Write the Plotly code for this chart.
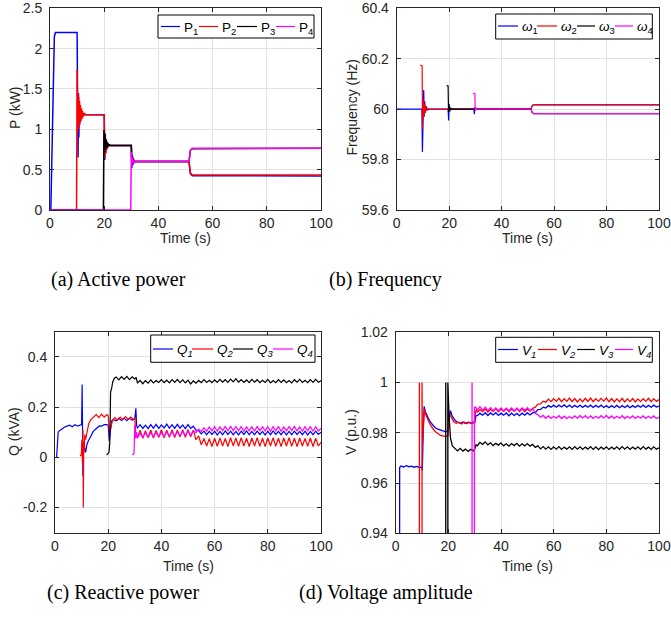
import plotly.graph_objects as go

W, H = 671, 620

# ---------------- tick labels ----------------
X_TICKS = [0, 20, 40, 60, 80, 100]
X_TICKTEXT = ['0', '20', '40', '60', '80', '100']
P_TICKS = [0, 0.5, 1, 1.5, 2, 2.5]
P_TICKTEXT = ['0', '0.5', '1', '1.5', '2', '2.5']
F_TICKS = [59.6, 59.8, 60, 60.2, 60.4]
F_TICKTEXT = ['59.6', '59.8', '60', '60.2', '60.4']
Q_TICKS = [-0.2, 0, 0.2, 0.4]
Q_TICKTEXT = ['-0.2', '0', '0.2', '0.4']
V_TICKS = [0.94, 0.96, 0.98, 1.0, 1.02]
V_TICKTEXT = ['0.94', '0.96', '0.98', '1', '1.02']

# ---------------- (a) active power, kW ----------------
P1_t = [0, 0.3, 1.6, 2.0, 10.0, 10.2, 10.35, 10.5, 10.65, 10.8, 10.95, 11.1, 11.3, 11.5, 11.8, 12.2, 13,
        20.0, 20.2, 20.4, 20.6, 20.8, 21.0, 21.3, 21.6, 22, 30.0, 30.2, 30.4, 30.6, 30.8, 31.0, 31.5,
        51.3, 51.8, 52.5, 100]
P1_v = [0, 0, 2.15, 2.2, 2.2, 1.5, 0.65, 1.45, 0.9, 1.3, 1.05, 1.25, 1.12, 1.22, 1.16, 1.19, 1.18,
        1.18, 0.62, 0.95, 0.7, 0.88, 0.76, 0.83, 0.79, 0.8, 0.8, 0.52, 0.68, 0.56, 0.64, 0.59, 0.6,
        0.6, 0.45, 0.425, 0.422]
P2_t = [0, 9.8, 10.0, 10.15, 10.3, 10.45, 10.6, 10.75, 10.9, 11.05, 11.2, 11.4, 11.6, 11.8, 12.0, 12.3, 12.7, 13.2,
        20.0, 20.2, 20.35, 20.5, 20.7, 20.9, 21.1, 21.4, 21.8, 22.3, 30.0, 30.2, 30.4, 30.6, 30.8, 31.2, 31.8,
        51.3, 51.8, 52.5, 100]
P2_v = [0, 0, 1.74, 0.95, 1.45, 1.0, 1.4, 1.05, 1.35, 1.08, 1.3, 1.1, 1.26, 1.13, 1.23, 1.16, 1.2, 1.18,
        1.18, 0.64, 0.92, 0.7, 0.88, 0.74, 0.84, 0.78, 0.81, 0.8, 0.8, 0.56, 0.66, 0.58, 0.62, 0.6, 0.6,
        0.6, 0.46, 0.435, 0.435]
P3_t = [0, 19.7, 19.9, 20.1, 20.3, 20.5, 20.7, 20.9, 21.1, 21.4, 21.7, 22.2, 30.0, 30.2, 30.4, 30.6, 30.9, 31.4,
        51.3, 51.8, 52.5, 100]
P3_v = [0, 0, 0.99, 0.72, 0.93, 0.75, 0.87, 0.77, 0.84, 0.79, 0.81, 0.8, 0.8, 0.6, 0.66, 0.58, 0.61, 0.6,
        0.6, 0.74, 0.76, 0.765]
P4_t = [0, 29.8, 30.0, 30.2, 30.4, 30.6, 30.8, 31.1, 31.5, 51.3, 51.8, 52.5, 100]
P4_v = [0, 0, 0.72, 0.57, 0.65, 0.58, 0.62, 0.59, 0.6, 0.6, 0.74, 0.765, 0.765]

# ---------------- (b) frequency, Hz ----------------
W1_t = [0, 9.6, 9.8, 10.0, 10.3, 10.5, 10.7, 10.9, 11.2, 11.6, 12.2, 19.6, 19.8, 20.0, 20.2, 20.5, 21,
        29.4, 29.6, 29.8, 30.1, 30.5, 51.2, 51.6, 52.2, 100]
W1_v = [60, 60, 59.83, 60.0, 60.076, 59.97, 60.03, 59.985, 60.012, 59.996, 60, 60, 59.955, 60.02, 59.99, 60.005, 60,
        60, 59.98, 60.008, 59.998, 60, 60, 60.012, 60.017, 60.017]
W2_t = [9.0, 9.7, 9.85, 10.0, 10.15, 10.3, 10.45, 10.6, 10.8, 11.0, 11.3, 11.7, 12.2, 51.2, 51.6, 52.2, 100]
W2_v = [60.175, 60.172, 59.92, 60.04, 59.96, 60.03, 59.975, 60.02, 59.985, 60.01, 59.995, 60.003, 60,
        60, 60.012, 60.018, 60.018]
W3_t = [19.0, 19.6, 19.75, 19.9, 20.05, 20.2, 20.4, 20.6, 20.9, 21.3, 51.2, 51.6, 52.2, 100]
W3_v = [60.093, 60.092, 59.99, 60.015, 59.992, 60.008, 59.996, 60.004, 59.999, 60, 60, 59.988, 59.982, 59.982]
W4_t = [29.0, 29.8, 29.95, 30.1, 30.3, 30.6, 51.2, 51.6, 52.2, 100]
W4_v = [60.063, 60.062, 59.995, 60.006, 59.998, 60, 60, 59.988, 59.982, 59.982]

# sampling instants of the steady ripple part (s)
T_RIP = list(range(31, 101))

# ---------------- (c) reactive power, kVA ----------------
Q1_t = [0.6, 1.2, 1.6, 2.5, 3.5, 4.5, 5.5, 6.5, 7.5, 8.5, 9.5, 10.0, 10.2, 10.5, 10.8, 11.1, 11.5, 12.0, 12.5,
        13.3, 14.2, 15.0, 15.8, 16.7, 17.5, 18.5, 19.5, 20.0, 20.4, 20.8, 21.3, 22, 23, 24, 25, 26, 27, 28, 29,
        30.0, 30.4, 30.7] + T_RIP
Q1_v = [0, 0.1, 0.105, 0.112, 0.12, 0.124, 0.128, 0.122, 0.13, 0.124, 0.128, 0.13, 0.29, -0.075, 0.06, 0.045,
        0.02, 0.05, 0.065, 0.08, 0.1, 0.11, 0.116, 0.125, 0.124, 0.13, 0.13, 0.128, 0.065, 0.1, 0.145, 0.15,
        0.145, 0.155, 0.147, 0.156, 0.146, 0.155, 0.148, 0.152, 0.195, 0.125,
        0.117, 0.130, 0.115, 0.128, 0.114, 0.130, 0.116, 0.131, 0.115, 0.129,
        0.117, 0.132, 0.116, 0.130, 0.115, 0.131, 0.116, 0.129, 0.114, 0.130,
        0.115, 0.124, 0.108, 0.106, 0.093, 0.104, 0.090, 0.103, 0.091, 0.104,
        0.089, 0.103, 0.090, 0.105, 0.091, 0.104, 0.090, 0.103, 0.089, 0.104,
        0.091, 0.105, 0.090, 0.103, 0.090, 0.104, 0.091, 0.103, 0.089, 0.104,
        0.090, 0.105, 0.091, 0.103, 0.090, 0.104, 0.089, 0.103, 0.090, 0.104,
        0.091, 0.103, 0.090, 0.104, 0.089, 0.103, 0.090, 0.104, 0.091, 0.100]
Q2_t = [9.4, 9.9, 10.1, 10.3, 10.5, 10.65, 10.8, 11.0, 11.2, 11.5, 12.0, 12.7, 13.5, 14.6, 15.5, 16.5, 17.5,
        18.5, 19.5, 20.0, 20.5, 21.0, 21.7, 22.5, 23.5, 24.5, 25.5, 26.5, 27.5, 28.5, 29.5, 30.0, 30.4] + T_RIP
Q2_v = [0.005, 0.01, 0.07, -0.02, 0.11, -0.2, 0.06, 0.02, 0.09, 0.07, 0.1, 0.135, 0.15, 0.16, 0.17, 0.158,
        0.172, 0.16, 0.17, 0.165, 0.1, 0.12, 0.148, 0.158, 0.148, 0.16, 0.15, 0.162, 0.152, 0.16, 0.15, 0.158, 0.09,
        0.078, 0.108, 0.076, 0.106, 0.079, 0.109, 0.077, 0.107, 0.080, 0.110,
        0.078, 0.108, 0.080, 0.110, 0.079, 0.109, 0.081, 0.110, 0.080, 0.111,
        0.082, 0.108, 0.070, 0.085, 0.050, 0.075, 0.045, 0.074, 0.043, 0.076,
        0.044, 0.077, 0.045, 0.075, 0.043, 0.078, 0.046, 0.077, 0.044, 0.078,
        0.045, 0.076, 0.043, 0.077, 0.045, 0.078, 0.044, 0.076, 0.043, 0.077,
        0.045, 0.078, 0.044, 0.076, 0.043, 0.077, 0.045, 0.078, 0.044, 0.076,
        0.043, 0.077, 0.045, 0.075, 0.044, 0.077, 0.043, 0.076, 0.045, 0.060]
Q3_t = [19.4, 20.3, 20.6, 20.9, 21.3, 21.7, 22.3, 23, 24, 25, 26, 27, 28, 29, 30, 30.5] + T_RIP
Q3_v = [0.009, 0.02, 0.06, 0.26, 0.275, 0.30, 0.315, 0.32, 0.308, 0.321, 0.31, 0.322, 0.309, 0.32, 0.312, 0.318,
        0.296, 0.306, 0.293, 0.305, 0.295, 0.308, 0.296, 0.306, 0.298, 0.309,
        0.297, 0.307, 0.296, 0.309, 0.298, 0.310, 0.297, 0.308, 0.296, 0.307,
        0.292, 0.304, 0.295, 0.306, 0.297, 0.309, 0.298, 0.307, 0.297, 0.308,
        0.298, 0.310, 0.299, 0.309, 0.298, 0.311, 0.300, 0.313, 0.299, 0.309,
        0.298, 0.308, 0.297, 0.310, 0.299, 0.309, 0.297, 0.307, 0.298, 0.310,
        0.296, 0.306, 0.297, 0.309, 0.298, 0.308, 0.297, 0.306, 0.296, 0.309,
        0.299, 0.310, 0.298, 0.307, 0.297, 0.309, 0.298, 0.310, 0.299, 0.305]
Q4_t = [29.1, 29.7, 30.0, 30.3, 30.6] + T_RIP
Q4_v = [0.009, 0.015, 0.13, 0.075, 0.1,
        0.076, 0.098, 0.078, 0.099, 0.079, 0.100, 0.080, 0.101, 0.081, 0.100,
        0.082, 0.102, 0.083, 0.103, 0.084, 0.102, 0.085, 0.104, 0.086, 0.105,
        0.088, 0.106, 0.098, 0.112, 0.103, 0.118, 0.104, 0.120, 0.105, 0.122,
        0.104, 0.121, 0.106, 0.123, 0.105, 0.124, 0.106, 0.122, 0.105, 0.123,
        0.104, 0.121, 0.105, 0.122, 0.104, 0.123, 0.106, 0.121, 0.105, 0.122,
        0.104, 0.122, 0.105, 0.123, 0.104, 0.121, 0.105, 0.122, 0.106, 0.123,
        0.105, 0.121, 0.104, 0.122, 0.105, 0.123, 0.104, 0.122, 0.105, 0.115]

# ---------------- (d) voltage amplitude, p.u. ----------------
V1_t = [1.2, 1.5, 2.0, 3, 4, 5, 6, 7, 8, 9, 9.9, 10.1, 10.4, 10.8, 11.2, 12, 13, 14, 15, 16, 17, 18, 19, 19.9,
        20.3, 20.8, 21.5, 22.5, 23.5, 24.5, 25.5, 26.5, 27.5, 28.5, 29.5, 30.0, 30.5] + T_RIP
V1_v = [0, 0.9662, 0.9668, 0.9664, 0.9669, 0.9665, 0.9667, 0.9663, 0.9666, 0.9662, 0.9664, 0.965, 0.978, 0.9905,
        0.9885, 0.9868, 0.9845, 0.9832, 0.982, 0.9815, 0.981, 0.9808, 0.9805, 0.9808, 0.986, 0.9888, 0.9865,
        0.985, 0.9842, 0.9838, 0.9843, 0.9837, 0.9842, 0.9838, 0.9843, 0.984, 0.9868,
        0.9868, 0.9878, 0.9870, 0.9880, 0.9869, 0.9879, 0.9871, 0.9880, 0.9869, 0.9878,
        0.9870, 0.9879, 0.9868, 0.9878, 0.9869, 0.9877, 0.9868, 0.9878, 0.9870, 0.9879,
        0.9871, 0.9880, 0.9880, 0.9892, 0.9893, 0.9902, 0.9899, 0.9908, 0.9902, 0.9910,
        0.9902, 0.9910, 0.9903, 0.9911, 0.9902, 0.9910, 0.9901, 0.9909, 0.9902, 0.9910,
        0.9901, 0.9909, 0.9902, 0.9910, 0.9901, 0.9909, 0.9902, 0.9910, 0.9901, 0.9908,
        0.9900, 0.9908, 0.9901, 0.9909, 0.9900, 0.9908, 0.9901, 0.9909, 0.9900, 0.9908,
        0.9901, 0.9909, 0.9902, 0.9910, 0.9901, 0.9909, 0.9902, 0.9910, 0.9903, 0.9906]
V2_t = [0, 8.95, 9.0, 9.05, 9.9, 10.0, 10.15, 10.5, 10.9, 11.3, 12, 13, 14, 15, 16, 17, 18, 19, 19.9, 20.1, 20.6,
        21.3, 22, 23, 24, 25, 26, 27, 28, 29, 29.9, 30.3, 30.7] + T_RIP
V2_v = [0, 0, 1.0, 0, 0, 1.0, 0.976, 0.983, 0.9895, 0.9875, 0.9858, 0.9835, 0.9818, 0.9805, 0.9797, 0.979,
        0.9788, 0.9785, 0.979, 0.9885, 0.9872, 0.9855, 0.9845, 0.9838, 0.9842, 0.9835, 0.9843, 0.9836, 0.9842,
        0.9837, 0.984, 0.9882, 0.9893,
        0.9882, 0.9893, 0.9884, 0.9895, 0.9883, 0.9894, 0.9885, 0.9896, 0.9884, 0.9895,
        0.9885, 0.9896, 0.9884, 0.9895, 0.9886, 0.9897, 0.9885, 0.9896, 0.9884, 0.9895,
        0.9886, 0.9897, 0.9902, 0.9914, 0.9915, 0.9926, 0.9922, 0.9934, 0.9924, 0.9936,
        0.9925, 0.9937, 0.9924, 0.9936, 0.9925, 0.9938, 0.9924, 0.9936, 0.9923, 0.9935,
        0.9924, 0.9937, 0.9925, 0.9938, 0.9924, 0.9936, 0.9925, 0.9937, 0.9926, 0.9938,
        0.9924, 0.9936, 0.9923, 0.9935, 0.9924, 0.9937, 0.9923, 0.9935, 0.9924, 0.9936,
        0.9923, 0.9935, 0.9924, 0.9936, 0.9925, 0.9937, 0.9924, 0.9936, 0.9925, 0.9932]
V3_t = [0, 18.95, 19.0, 19.05, 19.7, 19.8, 20.3, 20.8, 21.5, 22.5, 23.5, 24.5, 25.5, 26.5, 27.5, 28.5, 29.5,
        30.0, 30.5] + T_RIP
V3_v = [0, 0, 1.0, 0, 0, 1.0, 0.986, 0.978, 0.9748, 0.9736, 0.9728, 0.9738, 0.9727, 0.9735, 0.9726, 0.9734,
        0.9728, 0.9735, 0.9752,
        0.9748, 0.9762, 0.9754, 0.9764, 0.9752, 0.9760, 0.9749, 0.9758, 0.9751, 0.9759,
        0.9748, 0.9756, 0.9747, 0.9757, 0.9749, 0.9758, 0.9747, 0.9756, 0.9748, 0.9757,
        0.9747, 0.9754, 0.9742, 0.9748, 0.9736, 0.9745, 0.9735, 0.9744, 0.9734, 0.9744,
        0.9735, 0.9745, 0.9734, 0.9743, 0.9735, 0.9744, 0.9734, 0.9745, 0.9735, 0.9744,
        0.9734, 0.9743, 0.9735, 0.9745, 0.9734, 0.9744, 0.9733, 0.9743, 0.9735, 0.9744,
        0.9734, 0.9743, 0.9735, 0.9744, 0.9734, 0.9745, 0.9735, 0.9744, 0.9734, 0.9743,
        0.9735, 0.9744, 0.9734, 0.9745, 0.9735, 0.9743, 0.9734, 0.9744, 0.9735, 0.9740]
V4_t = [0, 28.95, 29.0, 29.05, 29.8, 29.9, 30.3, 30.7] + T_RIP
V4_v = [0, 0, 1.0, 0, 0, 0.99, 0.9902, 0.9893,
        0.9892, 0.9904, 0.9890, 0.9902, 0.9888, 0.9900, 0.9887, 0.9899, 0.9888, 0.9899,
        0.9887, 0.9898, 0.9888, 0.9899, 0.9887, 0.9898, 0.9888, 0.9899, 0.9889, 0.9900,
        0.9888, 0.9897, 0.9878, 0.9872, 0.9862, 0.9869, 0.9858, 0.9867, 0.9857, 0.9866,
        0.9858, 0.9868, 0.9857, 0.9866, 0.9856, 0.9865, 0.9857, 0.9867, 0.9858, 0.9868,
        0.9859, 0.9868, 0.9858, 0.9867, 0.9857, 0.9866, 0.9858, 0.9868, 0.9859, 0.9869,
        0.9858, 0.9867, 0.9857, 0.9866, 0.9858, 0.9868, 0.9857, 0.9866, 0.9858, 0.9867,
        0.9857, 0.9866, 0.9858, 0.9867, 0.9857, 0.9866, 0.9858, 0.9867, 0.9857, 0.9862]

COLORS = ['#0000ff', '#ff0000', '#000000', '#ff00ff']
LEG_P = ['P<sub>1</sub>', 'P<sub>2</sub>', 'P<sub>3</sub>', 'P<sub>4</sub>']
LEG_W = ['<i>ω</i><sub>1</sub>', '<i>ω</i><sub>2</sub>', '<i>ω</i><sub>3</sub>', '<i>ω</i><sub>4</sub>']
LEG_Q = ['<i>Q</i><sub><i>1</i></sub>', '<i>Q</i><sub><i>2</i></sub>', '<i>Q</i><sub><i>3</i></sub>', '<i>Q</i><sub><i>4</i></sub>']
LEG_V = ['<i>V</i><sub><i>1</i></sub>', '<i>V</i><sub><i>2</i></sub>', '<i>V</i><sub><i>3</i></sub>', '<i>V</i><sub><i>4</i></sub>']

SANS = 'Liberation Sans, Arial, Helvetica, sans-serif'
SERIF = 'Liberation Serif, Times New Roman, serif'
AXC = '#262626'


def px(x):
    return x / W


def py(y):
    return 1 - y / H


# panel boxes in pixels: left, right, top, bottom
BOX = {
    'a': (50, 321, 8.3, 210),
    'b': (396.7, 659, 8.3, 210),
    'c': (55, 321, 331.7, 532.7),
    'd': (395.7, 659, 332.3, 533.3),
}
LINE_W = {'a': 1.5, 'b': 1.2, 'c': 1.2, 'd': 1.3}

fig = go.Figure()

panels = [
    ('a', '', [(P1_t, P1_v), (P2_t, P2_v), (P3_t, P3_v), (P4_t, P4_v)], [0, 2.5], P_TICKS, P_TICKTEXT),
    ('b', '2', [(W1_t, W1_v), (W2_t, W2_v), (W3_t, W3_v), (W4_t, W4_v)], [59.6, 60.4], F_TICKS, F_TICKTEXT),
    ('c', '3', [(Q1_t, Q1_v), (Q2_t, Q2_v), (Q3_t, Q3_v), (Q4_t, Q4_v)], [-0.3, 0.5], Q_TICKS, Q_TICKTEXT),
    ('d', '4', [(V1_t, V1_v), (V2_t, V2_v), (V3_t, V3_v), (V4_t, V4_v)], [0.94, 1.02], V_TICKS, V_TICKTEXT),
]

layout_axes = {}
for key, sfx, series, yr, yt, ytt in panels:
    l, r, t, b = BOX[key]
    for (tt, vv), c in zip(series, COLORS):
        fig.add_trace(go.Scatter(x=tt, y=vv, mode='lines', line=dict(color=c, width=LINE_W[key]),
                                 xaxis='x' + sfx, yaxis='y' + sfx, showlegend=False, hoverinfo='skip'))
    common = dict(showgrid=True, gridcolor='#e2e2e2', gridwidth=1, showline=True, mirror='ticks',
                  linecolor=AXC, linewidth=1, ticks='inside', ticklen=4, tickcolor=AXC, tickwidth=1,
                  tickfont=dict(family=SANS, size=14, color=AXC), zeroline=False, fixedrange=True,
                  automargin=False)
    layout_axes['xaxis' + sfx] = dict(domain=[px(l), px(r)], range=[0, 100], tickvals=X_TICKS,
                                      ticktext=X_TICKTEXT, anchor='y' + sfx, ticklabelstandoff=0, **common)
    layout_axes['yaxis' + sfx] = dict(domain=[py(b), py(t)], range=yr, tickvals=yt, ticktext=ytt,
                                      anchor='x' + sfx, ticklabelstandoff=4, **common)

fig.update_layout(**layout_axes)

shapes = []
annots = []

# legends
LEGENDS = [
    (LEG_P, (158, 314, 15, 38), [(161, 180), (199, 218), (237, 257), (276, 295)], 26.5),
    (LEG_W, (495.7, 652.3, 14, 39), [(498, 518), (537, 557), (577, 595), (615, 633)], 26),
    (LEG_Q, (150.7, 315, 335, 362.3), [(153, 173), (192, 213), (233, 253), (273, 293)], 349),
    (LEG_V, (495.7, 652.3, 337.3, 362.3), [(498, 518), (538, 557), (577, 595), (615, 633)], 349.5),
]
for labels, (bl, br, bt, bb), segs, ly in LEGENDS:
    shapes.append(dict(type='rect', xref='paper', yref='paper', x0=px(bl), x1=px(br), y0=py(bb), y1=py(bt),
                       line=dict(color='#000000', width=1), fillcolor='white', layer='above'))
    for lab, (x0, x1), c in zip(labels, segs, COLORS):
        shapes.append(dict(type='line', xref='paper', yref='paper', x0=px(x0), x1=px(x1), y0=py(ly), y1=py(ly),
                           line=dict(color=c, width=1.2), layer='above'))
        annots.append(dict(text=lab, xref='paper', yref='paper', x=px(x1 + 1.5), y=py(ly + 1.5),
                           xanchor='left', yanchor='middle', showarrow=False,
                           font=dict(family=SANS, size=13.5, color='#000000')))

# axis titles
TITLES = [
    ('P (kW)', 15, 108, -90), ('Time (s)', 185.5, 238, 0),
    ('Frequency (Hz)', 351.5, 108, -90), ('Time (s)', 527.8, 238, 0),
    ('Q (kVA)', 14, 432, -90), ('Time (s)', 188, 565.5, 0),
    ('V (p.u.)', 351, 432, -90), ('Time (s)', 527.3, 566, 0),
]
for txt, x, y, ang in TITLES:
    annots.append(dict(text=txt, xref='paper', yref='paper', x=px(x), y=py(y), xanchor='center',
                       yanchor='middle', showarrow=False, textangle=ang,
                       font=dict(family=SANS, size=14, color=AXC)))

# captions
CAPTIONS = [('(a) Active power', 118.5, 279), ('(b) Frequency', 385.8, 279),
            ('(c) Reactive power', 123.3, 592), ('(d) Voltage amplitude', 385.8, 592)]
for txt, x, y in CAPTIONS:
    annots.append(dict(text=txt, xref='paper', yref='paper', x=px(x), y=py(y), xanchor='center',
                       yanchor='middle', showarrow=False, font=dict(family=SERIF, size=20, color='#000000')))

fig.update_layout(width=W, height=H, margin=dict(l=0, r=0, t=0, b=0), paper_bgcolor='white',
                  plot_bgcolor='white', shapes=shapes, annotations=annots, showlegend=False)

fig.write_html('out.html', config={'displayModeBar': False, 'staticPlot': True},
               post_script="document.body.style.margin='0';document.body.style.overflow='hidden';")
